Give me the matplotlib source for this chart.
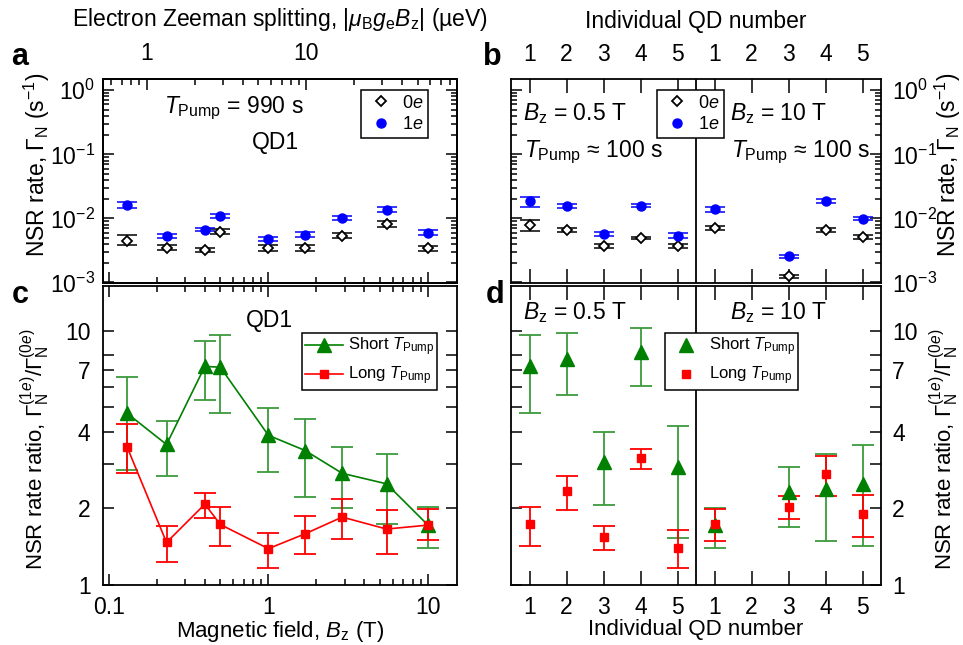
import matplotlib
matplotlib.use('Agg')
import matplotlib.pyplot as plt
import matplotlib.ticker as mticker
import numpy as np

plt.rcParams['font.family'] = ['Liberation Sans', 'DejaVu Sans']
plt.rcParams['mathtext.fontset'] = 'custom'
plt.rcParams['mathtext.rm'] = 'Liberation Sans'
plt.rcParams['mathtext.it'] = 'Liberation Sans:italic'
plt.rcParams['mathtext.bf'] = 'Liberation Sans:bold'
plt.rcParams['xtick.direction'] = 'in'
plt.rcParams['ytick.direction'] = 'in'
plt.rcParams['axes.linewidth'] = 1.3

nan = np.nan

# ---- panel a: QD1 vs magnetic field ----
B_field = [0.13, 0.23, 0.4, 0.5, 1.0, 1.7, 2.9, 5.5, 10.0]
rate_0e = [0.0045, 0.0035, 0.00324, 0.0062, 0.00344, 0.00347, 0.0054, 0.0081, 0.0034]
rate_0e_lo = [0.00378, 0.0032, 0.0030, 0.0057, 0.0031, 0.0031, 0.0049, 0.0073, 0.0031]
rate_0e_hi = [0.00542, 0.0038, 0.0035, 0.0068, 0.0038, 0.0038, 0.0060, 0.0090, 0.0037]
rate_1e = [0.0162, 0.0053, 0.0067, 0.0109, 0.0048, 0.0056, 0.0100, 0.0135, 0.0060]
rate_1e_lo = [0.0143, 0.0049, 0.0063, 0.0100, 0.0044, 0.0052, 0.0093, 0.0124, 0.0056]
rate_1e_hi = [0.0182, 0.0057, 0.0071, 0.0118, 0.0052, 0.0061, 0.0108, 0.0148, 0.0065]

# ---- panel b: individual QDs at 0.5 T and 10 T ----
qd_pos = [1, 2, 3, 4, 5, 6, 7, 8, 9, 10]
qd_labels = ['1', '2', '3', '4', '5', '1', '2', '3', '4', '5']
qd_0e = [0.0078, 0.0066, 0.0037, 0.0049, 0.00374, 0.00706, nan, 0.00124, 0.00665, 0.0051]
qd_0e_lo = [0.00626, 0.0061, 0.0035, 0.0047, 0.0035, 0.0066, nan, 0.00117, 0.0062, 0.0048]
qd_0e_hi = [0.0096, 0.0071, 0.0040, 0.0052, 0.0040, 0.0076, nan, 0.00131, 0.0071, 0.0055]
qd_1e = [0.0184, 0.0154, 0.00575, 0.0158, 0.0054, 0.0138, nan, 0.00255, 0.0184, 0.0099]
qd_1e_lo = [0.0149, 0.0145, 0.0054, 0.0150, 0.0049, 0.0128, nan, 0.0024, 0.0172, 0.0093]
qd_1e_hi = [0.0215, 0.0165, 0.0062, 0.0166, 0.0060, 0.0150, nan, 0.0027, 0.0198, 0.0106]

# ---- panel c: ratio vs field ----
ratio_short = [4.74, 3.57, 7.24, 7.19, 3.88, 3.38, 2.75, 2.5, 1.72]
ratio_short_lo = [2.84, 2.69, 5.32, 4.74, 2.78, 2.22, 2.01, 1.74, 1.40]
ratio_short_hi = [6.57, 4.40, 9.13, 9.64, 4.99, 4.50, 3.48, 3.27, 2.02]
ratio_long = [3.50, 1.47, 2.08, 1.73, 1.39, 1.59, 1.85, 1.66, 1.72]
ratio_long_lo = [2.75, 1.23, 1.84, 1.43, 1.17, 1.32, 1.51, 1.33, 1.50]
ratio_long_hi = [4.29, 1.71, 2.30, 2.02, 1.60, 1.86, 2.17, 1.98, 1.99]

# ---- panel d: ratio for individual QDs ----
qd_short = [7.28, 7.76, 3.06, 8.27, 2.90, 1.72, nan, 2.32, 2.39, 2.5]
qd_short_lo = [4.74, 5.6, 2.06, 6.04, 1.53, 1.40, nan, 1.69, 1.49, 1.42]
qd_short_hi = [9.64, 9.79, 3.98, 10.3, 4.24, 2.01, nan, 2.90, 3.27, 3.56]
qd_long = [1.73, 2.34, 1.54, 3.15, 1.40, 1.73, nan, 2.02, 2.73, 1.90]
qd_long_lo = [1.42, 1.97, 1.37, 2.86, 1.17, 1.49, nan, 1.81, 2.23, 1.54]
qd_long_hi = [2.02, 2.68, 1.70, 3.43, 1.64, 1.99, nan, 2.23, 3.23, 2.25]

zeeman_per_tesla = 5.79  # mu_B*|g_e| in ueV/T
ratio_ticks = [1, 2, 3, 4, 5, 6, 7, 8, 10]
ratio_labeled = [1, 2, 4, 7, 10]

GREEN = '#008000'
GREEN_ERR = '#3c9a3c'
RED = '#ff0000'
BLUE = '#0000ff'
TICK_FS = 16.5
LABEL_FS = 16.5
TEXT_FS = 16.5

rate_label = r'NSR rate, $\mathit{\Gamma}_\mathrm{N}$ (s$^{-1}$)'
ratio_label = (r'NSR rate ratio, $\mathit{\Gamma}_\mathrm{N}^{(1\mathit{e})}/'
               r'\mathit{\Gamma}_\mathrm{N}^{(0\mathit{e})}$')


def err(y, lo, hi):
    y, lo, hi = np.array(y), np.array(lo), np.array(hi)
    return np.array([y - lo, hi - y])


def style_ticks(ax):
    ax.tick_params(which='both', top=True, bottom=True, left=True, right=True,
                   labelsize=TICK_FS, width=1.1)
    ax.tick_params(which='major', length=8)
    ax.tick_params(which='minor', length=4.5)


def ratio_yaxis(ax):
    ax.set_yscale('log')
    ax.set_ylim(1, 15)
    ax.yaxis.set_major_locator(mticker.FixedLocator(ratio_ticks))
    ax.yaxis.set_major_formatter(mticker.FuncFormatter(
        lambda v, _: '%d' % round(v) if round(v) in ratio_labeled else ''))
    ax.yaxis.set_minor_locator(mticker.NullLocator())


def box_legend(ax, anchor, **kw):
    opts = dict(loc='upper right', bbox_to_anchor=anchor, borderaxespad=0, fancybox=False,
                edgecolor='k', framealpha=1)
    opts.update(kw)
    leg = ax.legend(**opts)
    leg.get_frame().set_linewidth(1.1)
    return leg


W, H = 963, 645
fig = plt.figure(figsize=(W / 100, H / 100), dpi=100)
ax_a = fig.add_axes([103 / W, 1 - 283 / H, 354 / W, 204 / H])
ax_c = fig.add_axes([103 / W, 1 - 585 / H, 354 / W, 299 / H])
ax_b = fig.add_axes([511 / W, 1 - 283 / H, 370 / W, 204 / H])
ax_d = fig.add_axes([511 / W, 1 - 585 / H, 370 / W, 299 / H])

# panel a
ax_a.errorbar(B_field, rate_0e, yerr=err(rate_0e, rate_0e_lo, rate_0e_hi), fmt='none',
              ecolor='k', elinewidth=1.1, capsize=7.5, capthick=1.1)
ax_a.errorbar(B_field, rate_1e, yerr=err(rate_1e, rate_1e_lo, rate_1e_hi), fmt='none',
              ecolor=BLUE, elinewidth=1.1, capsize=7.5, capthick=1.1)
ax_a.plot(B_field, rate_0e, 'D', ms=5.5, mfc='white', mec='k', mew=1.3, ls='none', label='0$\\mathit{e}$')
ax_a.plot(B_field, rate_1e, 'o', ms=6.5, color=BLUE, ls='none', label='1$\\mathit{e}$')
ax_a.set_xscale('log')
ax_a.set_yscale('log')
ax_a.set_xlim(0.092, 15.2)
ax_a.set_ylim(0.98e-3, 1.5)
style_ticks(ax_a)
ax_a.tick_params(axis='x', which='both', top=False, labelbottom=False)
ax_a.tick_params(axis='y', pad=6)
ax_a.set_ylabel(rate_label, fontsize=LABEL_FS)
ax_a.yaxis.set_label_coords(-0.145, 0.58)
ax_a.text(0.37, 0.855, r'$\mathit{T}_\mathrm{Pump}$ = 990 s', transform=ax_a.transAxes,
          ha='center', va='center', fontsize=TEXT_FS)
ax_a.text(0.486, 0.69, 'QD1', transform=ax_a.transAxes, ha='center', va='center', fontsize=TEXT_FS)
box_legend(ax_a, (0.918, 0.946), fontsize=13, handletextpad=0.25, borderpad=0.25,
           labelspacing=0.25, handlelength=1.8)

# top axis: Zeeman splitting
ax_top = ax_a.twiny()
ax_top.set_xscale('log')
ax_top.set_xlim(0.092 * zeeman_per_tesla, 15.2 * zeeman_per_tesla)
ax_top.xaxis.set_major_formatter(mticker.FuncFormatter(lambda v, _: '%g' % v))
ax_top.tick_params(which='both', labelsize=TICK_FS, width=1.1, pad=10)
ax_top.tick_params(which='major', length=8)
ax_top.tick_params(which='minor', length=4.5)
ax_top.set_xlabel(r'Electron Zeeman splitting, |$\mathit{\mu}_\mathrm{B}\mathit{g}_\mathrm{e}'
                  r'\mathit{B}_\mathrm{z}$| (µeV)', fontsize=LABEL_FS, labelpad=11.5)

# panel b
ax_b.errorbar(qd_pos, qd_0e, yerr=err(qd_0e, qd_0e_lo, qd_0e_hi), fmt='none',
              ecolor='k', elinewidth=1.1, capsize=7.5, capthick=1.1)
ax_b.errorbar(qd_pos, qd_1e, yerr=err(qd_1e, qd_1e_lo, qd_1e_hi), fmt='none',
              ecolor=BLUE, elinewidth=1.1, capsize=7.5, capthick=1.1)
ax_b.plot(qd_pos, qd_0e, 'D', ms=5.5, mfc='white', mec='k', mew=1.3, ls='none', label='0$\\mathit{e}$')
ax_b.plot(qd_pos, qd_1e, 'o', ms=6.5, color=BLUE, ls='none', label='1$\\mathit{e}$')
ax_b.axvline(5.5, color='k', lw=1.3)
ax_b.set_yscale('log')
ax_b.set_xlim(0.5, 10.5)
ax_b.set_ylim(0.98e-3, 1.5)
ax_b.set_xticks(qd_pos)
ax_b.set_xticklabels(qd_labels)
style_ticks(ax_b)
ax_b.tick_params(axis='x', which='major', length=10)
ax_b.tick_params(axis='x', labelbottom=False, labeltop=True, pad=9.5)
ax_b.tick_params(axis='y', labelleft=False, labelright=True, pad=8)
ax_b.xaxis.set_label_position('top')
ax_b.set_xlabel('Individual QD number', fontsize=LABEL_FS, labelpad=10.5)
ax_b.yaxis.set_label_position('right')
ax_b.set_ylabel(rate_label, fontsize=LABEL_FS)
ax_b.yaxis.set_label_coords(1.14, 0.58)
ax_b.text(0.032, 0.83, r'$\mathit{B}_\mathrm{z}$ = 0.5 T', transform=ax_b.transAxes,
          ha='left', va='center', fontsize=TEXT_FS)
ax_b.text(0.036, 0.64, r'$\mathit{T}_\mathrm{Pump}$ ≈ 100 s', transform=ax_b.transAxes,
          ha='left', va='center', fontsize=TEXT_FS)
ax_b.text(0.592, 0.83, r'$\mathit{B}_\mathrm{z}$ = 10 T', transform=ax_b.transAxes,
          ha='left', va='center', fontsize=TEXT_FS)
ax_b.text(0.595, 0.64, r'$\mathit{T}_\mathrm{Pump}$ ≈ 100 s', transform=ax_b.transAxes,
          ha='left', va='center', fontsize=TEXT_FS)
box_legend(ax_b, (0.576, 0.946), fontsize=13, handletextpad=0.25, borderpad=0.25,
           labelspacing=0.25, handlelength=1.8)

# panel c
ax_c.errorbar(B_field, ratio_short, yerr=err(ratio_short, ratio_short_lo, ratio_short_hi),
              fmt='-^', color=GREEN, ms=10, lw=1.2, ecolor=GREEN_ERR, elinewidth=1.3,
              capsize=8, capthick=1.3, label=r'Short $\mathit{T}_\mathrm{Pump}$')
ax_c.errorbar(B_field, ratio_long, yerr=err(ratio_long, ratio_long_lo, ratio_long_hi),
              fmt='-s', color=RED, ms=5.5, lw=1.2, ecolor=RED, elinewidth=1.3,
              capsize=8, capthick=1.3, label=r'Long $\mathit{T}_\mathrm{Pump}$')
ax_c.set_xscale('log')
ax_c.set_xlim(0.092, 15.2)
ratio_yaxis(ax_c)
ax_c.xaxis.set_major_formatter(mticker.FuncFormatter(lambda v, _: '%g' % v))
style_ticks(ax_c)
ax_c.tick_params(axis='x', pad=8)
ax_c.tick_params(axis='y', pad=9)
ax_c.set_xlabel(r'Magnetic field, $\mathit{B}_\mathrm{z}$ (T)', fontsize=16, labelpad=0)
ax_c.set_ylabel(ratio_label, fontsize=16)
ax_c.yaxis.set_label_coords(-0.145, 0.455)
ax_c.text(0.469, 0.886, 'QD1', transform=ax_c.transAxes, ha='center', va='center', fontsize=TEXT_FS)
hs, lbls = ax_c.get_legend_handles_labels()
box_legend(ax_c, (0.943, 0.843), handles=[h[0] for h in hs], labels=lbls, fontsize=12,
           handletextpad=0.3, borderpad=0.15, labelspacing=0.4, handlelength=2.3)

# panel d
ax_d.errorbar(qd_pos, qd_short, yerr=err(qd_short, qd_short_lo, qd_short_hi), fmt='none',
              ecolor=GREEN_ERR, elinewidth=1.3, capsize=8, capthick=1.3)
ax_d.errorbar(qd_pos, qd_long, yerr=err(qd_long, qd_long_lo, qd_long_hi), fmt='none',
              ecolor=RED, elinewidth=1.3, capsize=8, capthick=1.3)
ax_d.plot(qd_pos, qd_short, '^', ms=10, color=GREEN, ls='none', label=r'Short $\mathit{T}_\mathrm{Pump}$')
ax_d.plot(qd_pos, qd_long, 's', ms=5.5, color=RED, ls='none', label=r'Long $\mathit{T}_\mathrm{Pump}$')
ax_d.axvline(5.5, color='k', lw=1.3)
ax_d.set_xlim(0.5, 10.5)
ratio_yaxis(ax_d)
ax_d.set_xticks(qd_pos)
ax_d.set_xticklabels(qd_labels)
style_ticks(ax_d)
ax_d.tick_params(axis='x', which='major', length=10, pad=8)
ax_d.tick_params(axis='y', labelleft=False, labelright=True, pad=8)
ax_d.set_xlabel('Individual QD number', fontsize=16, labelpad=0)
ax_d.yaxis.set_label_position('right')
ax_d.set_ylabel(ratio_label, fontsize=16)
ax_d.yaxis.set_label_coords(1.125, 0.455)
ax_d.text(0.032, 0.91, r'$\mathit{B}_\mathrm{z}$ = 0.5 T', transform=ax_d.transAxes,
          ha='left', va='center', fontsize=TEXT_FS)
ax_d.text(0.592, 0.91, r'$\mathit{B}_\mathrm{z}$ = 10 T', transform=ax_d.transAxes,
          ha='left', va='center', fontsize=TEXT_FS)
box_legend(ax_d, (0.776, 0.843), fontsize=12, handletextpad=0.3, borderpad=0.15,
           labelspacing=0.4, handlelength=2.2)

# panel letters
for letter, x, y in [('a', 20, 57), ('b', 492, 57), ('c', 20, 295), ('d', 495, 295)]:
    fig.text(x / W, 1 - y / H, letter, fontsize=22, fontweight='bold', ha='center', va='center')

fig.savefig('out.png', dpi=100)
